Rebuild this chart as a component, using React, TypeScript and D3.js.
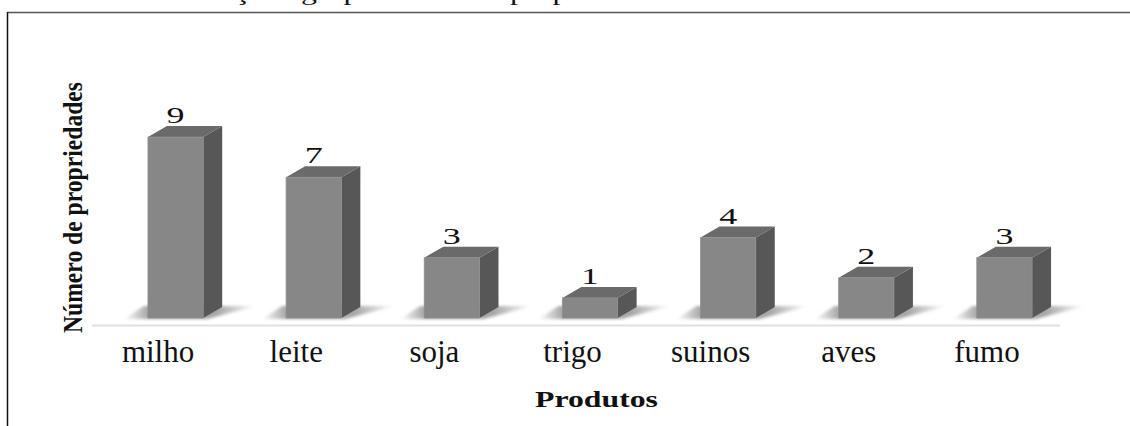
import React from "react";
import * as d3 from "d3";

// Number of properties per product
const categories: string[] = ["milho", "leite", "soja", "trigo", "suinos", "aves", "fumo"];
const values: number[] = [9, 7, 3, 1, 4, 2, 3];

const yAxisTitle = "Número de propriedades";
const xAxisTitle = "Produtos";
const caption = "Produção agropecuária nas propriedades";

const W = 1130;
const H = 426;
const SERIF = "'Liberation Serif', 'Times New Roman', Times, serif";

export default function App() {
  const x = d3.scaleBand<string>().domain(categories).range([92, 1059]).padding(0);
  const y = d3.scaleLinear().domain([0, 10]).range([318, 117]);
  const bw = x.bandwidth();
  const barW = bw * 0.4;
  const offset = bw * 0.405;
  const dx = 19;
  const dy = 11;
  const base = y(0);

  return (
    <svg
      width={W}
      height={H}
      style={{ position: "absolute", left: 0, top: 0, background: "#fff" }}
      fontFamily={SERIF}
    >
      <defs>
        <linearGradient id="floorShade" x1="0" y1="0" x2="1" y2="0">
          <stop offset="0" stopColor="#6a6a6a" stopOpacity="0" />
          <stop offset="0.2" stopColor="#6a6a6a" stopOpacity="0.65" />
          <stop offset="0.7" stopColor="#6a6a6a" stopOpacity="0.6" />
          <stop offset="1" stopColor="#6a6a6a" stopOpacity="0" />
        </linearGradient>
        <filter id="soft" x="-20%" y="-50%" width="140%" height="200%">
          <feGaussianBlur stdDeviation="1.6" />
        </filter>
      </defs>

      {/* caption running off the top edge */}
      <text
        x={0}
        y={0}
        fontSize={22}
        fill="#111"
        transform="translate(158.5,0) scale(1.45,1)"
      >
        {caption}
      </text>

      {/* frame */}
      <line x1={7} y1={12.5} x2={W} y2={12.5} stroke="#555" strokeWidth={1.5} />
      <line x1={7.5} y1={12} x2={7.5} y2={H} stroke="#111" strokeWidth={1.5} />

      {/* floor */}
      <line x1={92} y1={325.5} x2={1060} y2={325.5} stroke="#e0e0e0" strokeWidth={2} />

      {/* floor shadows */}
      {categories.map((c) => {
        const fl = (x(c) as number) + offset;
        const fr = fl + barW;
        const pts = [
          [fl - 24, base + 1],
          [fr + 4, base + 1],
          [fr + dx + 34, base - 12],
          [fl - 4, base - 12],
        ];
        return (
          <polygon
            key={"s" + c}
            points={pts.map((p) => p.join(",")).join(" ")}
            fill="url(#floorShade)"
            filter="url(#soft)"
          />
        );
      })}

      {/* bars */}
      {categories.map((c, i) => {
        const fl = (x(c) as number) + offset;
        const fr = fl + barW;
        const top = y(values[i]);
        const topFace = [
          [fl, top],
          [fl + dx, top - dy],
          [fr + dx, top - dy],
          [fr, top],
        ];
        const sideFace = [
          [fr, top],
          [fr + dx, top - dy],
          [fr + dx, base - dy],
          [fr, base],
        ];
        return (
          <g key={"b" + c}>
            <polygon points={sideFace.map((p) => p.join(",")).join(" ")} fill="#575757" />
            <polygon points={topFace.map((p) => p.join(",")).join(" ")} fill="#6a6a6a" />
            <rect x={fl} y={top} width={barW} height={base - top} fill="#878787" stroke="#8f8f8f" strokeWidth={0.8} />
            <text
              x={fl + barW / 2}
              y={top - 14}
              fontSize={24}
              textAnchor="middle"
              fill="#111"
              textLength={18}
              lengthAdjust="spacingAndGlyphs"
            >
              {values[i]}
            </text>
          </g>
        );
      })}

      {/* category labels */}
      {categories.map((c) => (
        <text
          key={"l" + c}
          x={(x(c) as number) + bw / 2 - 3}
          y={362}
          fontSize={31}
          textAnchor="middle"
          fill="#111"
        >
          {c}
        </text>
      ))}

      {/* axis titles */}
      <text
        x={596.5}
        y={407}
        fontSize={23}
        fontWeight="bold"
        textAnchor="middle"
        fill="#111"
        textLength={123}
        lengthAdjust="spacingAndGlyphs"
      >
        {xAxisTitle}
      </text>
      <text
        transform="translate(82,207.5) scale(1.12,1) rotate(-90)"
        x={0}
        y={0}
        fontSize={24}
        fontWeight="bold"
        textAnchor="middle"
        fill="#111"
        textLength={251}
        lengthAdjust="spacingAndGlyphs"
      >
        {yAxisTitle}
      </text>
    </svg>
  );
}
